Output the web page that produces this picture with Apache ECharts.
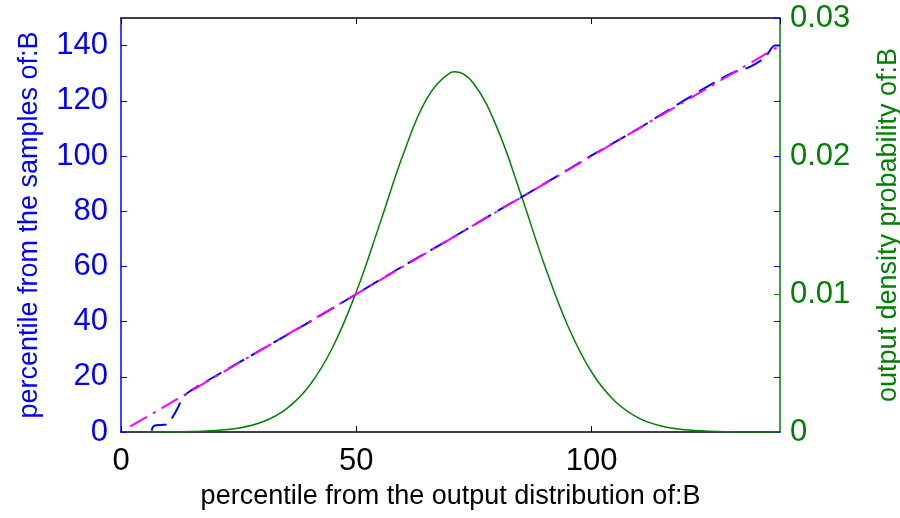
<!DOCTYPE html>
<html>
<head>
<meta charset="utf-8">
<script src="https://cdn.jsdelivr.net/npm/echarts@6/dist/echarts.min.js"></script>
<style>
  html, body { margin: 0; padding: 0; background: #fff; }
  #chart { width: 900px; height: 518px; }
</style>
</head>
<body>
<div id="chart"></div>
<script>
// Output distribution percentiles (x) against sample percentiles (blue)
const sampleX = [6.5, 7, 9, 10, 11, 12, 13, 14, 15, 20, 30, 40, 50, 60, 70, 80, 90, 100, 110, 115, 120, 124, 127.5, 130, 133.5, 136.8, 138.9, 140];
const sampleY = [0.5, 2.2, 2.6, 3.0, 5.5, 8.5, 12.0, 14.0, 15.2, 20.2, 30.0, 39.8, 50.0, 60.2, 70.0, 80.1, 90.0, 100.2, 110.0, 115.3, 120.5, 124.6, 128.0, 130.2, 132.2, 135.7, 140.0, 140.0];

// Reference diagonal (magenta)
const refX = [2, 140];
const refY = [2, 140];

// Output density of B (green, right axis)
const densX = [7, 10, 15, 20, 25, 30, 35, 40, 45, 50, 55, 60, 65, 70, 71, 75, 80, 85, 90, 95, 100, 105, 110, 115, 120, 125, 130, 135, 140];
const densY = [0.000004, 0.000009, 0.000032, 0.000101, 0.000284, 0.00072, 0.00164, 0.00335, 0.00616, 0.01017, 0.0151, 0.02016, 0.02417, 0.02604, 0.0261, 0.02522, 0.02195, 0.01717, 0.01207, 0.00763, 0.00433, 0.00221, 0.00101, 0.000417, 0.000155, 0.000051, 0.000015, 0.000004, 0.000001];

const xMax = 140;
const leftMax = 150;
const rightMax = 0.03;

const FONT = 'Liberation Sans, Arial, Helvetica, sans-serif';
const BLUE = '#0000ff';
const GREEN = '#008000';
const MAGENTA = '#ff00ff';

const pairs = (xs, ys) => xs.map((x, i) => [x, ys[i]]);

const chart = echarts.init(document.getElementById('chart'), null, { renderer: 'canvas' });

chart.setOption({
  animation: false,
  backgroundColor: '#ffffff',
  grid: { left: 121, right: 120, top: 18, bottom: 86, containLabel: false, outerBoundsMode: 'none' },
  xAxis: [
    {
      type: 'value', position: 'bottom', min: 0, max: xMax, interval: 50,
      axisLine: { show: true, onZero: false, lineStyle: { color: '#000', width: 1.5 } },
      axisTick: { show: true, inside: true, length: 6, lineStyle: { color: '#000', width: 1 } },
      axisLabel: { show: true, color: '#000', fontSize: 31, fontFamily: FONT, margin: 14, showMaxLabel: false },
      splitLine: { show: false },
      name: 'percentile from the output distribution of:B',
      nameLocation: 'middle', nameGap: 51,
      nameTextStyle: { color: '#000', fontSize: 27, fontFamily: FONT }
    },
    {
      type: 'value', position: 'top', min: 0, max: xMax, interval: 50,
      axisLine: { show: true, onZero: false, lineStyle: { color: '#000', width: 1.5 } },
      axisTick: { show: true, inside: true, length: 6, lineStyle: { color: '#000', width: 1 } },
      axisLabel: { show: false },
      splitLine: { show: false }
    }
  ],
  yAxis: [
    {
      type: 'value', position: 'left', min: 0, max: leftMax, interval: 20,
      axisLine: { show: true, onZero: false, lineStyle: { color: BLUE, width: 1.5 } },
      axisTick: { show: true, inside: true, length: 6, lineStyle: { color: BLUE, width: 1 } },
      axisLabel: { show: true, color: BLUE, fontSize: 31, fontFamily: FONT, margin: 13, showMaxLabel: false },
      splitLine: { show: false },
      name: 'percentile from the samples of:B',
      nameLocation: 'middle', nameGap: 78, nameRotate: 90,
      nameTextStyle: { color: BLUE, fontSize: 27, fontFamily: FONT }
    },
    {
      type: 'value', position: 'right', min: 0, max: rightMax, interval: 0.01,
      axisLine: { show: true, onZero: false, lineStyle: { color: GREEN, width: 1.5 } },
      axisTick: { show: true, inside: true, length: 6, lineStyle: { color: GREEN, width: 1 } },
      axisLabel: {
        show: true, color: GREEN, fontSize: 31, fontFamily: FONT, margin: 10,
        formatter: v => (v === 0 ? '0' : v.toFixed(2))
      },
      splitLine: { show: false },
      name: 'output density probability of:B',
      nameLocation: 'middle', nameGap: 95, nameRotate: 90,
      nameTextStyle: { color: GREEN, fontSize: 27, fontFamily: FONT }
    },
    {
      // left-scale ticks repeated along the right edge
      type: 'value', position: 'right', offset: 0, min: 0, max: leftMax, interval: 20,
      axisLine: { show: false, onZero: false },
      axisTick: { show: true, inside: true, length: 6, lineStyle: { color: BLUE, width: 1 } },
      axisLabel: { show: false },
      splitLine: { show: false }
    }
  ],
  series: [
    {
      name: 'samples', type: 'line', xAxisIndex: 0, yAxisIndex: 0,
      data: pairs(sampleX, sampleY), showSymbol: false, smooth: 0.3,
      lineStyle: { color: BLUE, width: 2, type: [18, 8] },
      z: 3
    },
    {
      name: 'reference', type: 'line', xAxisIndex: 0, yAxisIndex: 0,
      data: pairs(refX, refY), showSymbol: false,
      lineStyle: { color: MAGENTA, width: 2, type: [19, 7, 3, 7] },
      z: 4
    },
    {
      name: 'density', type: 'line', xAxisIndex: 0, yAxisIndex: 1,
      data: pairs(densX, densY), showSymbol: false, smooth: 0.4,
      lineStyle: { color: GREEN, width: 1.5 },
      z: 2
    }
  ]
});
</script>
</body>
</html>
